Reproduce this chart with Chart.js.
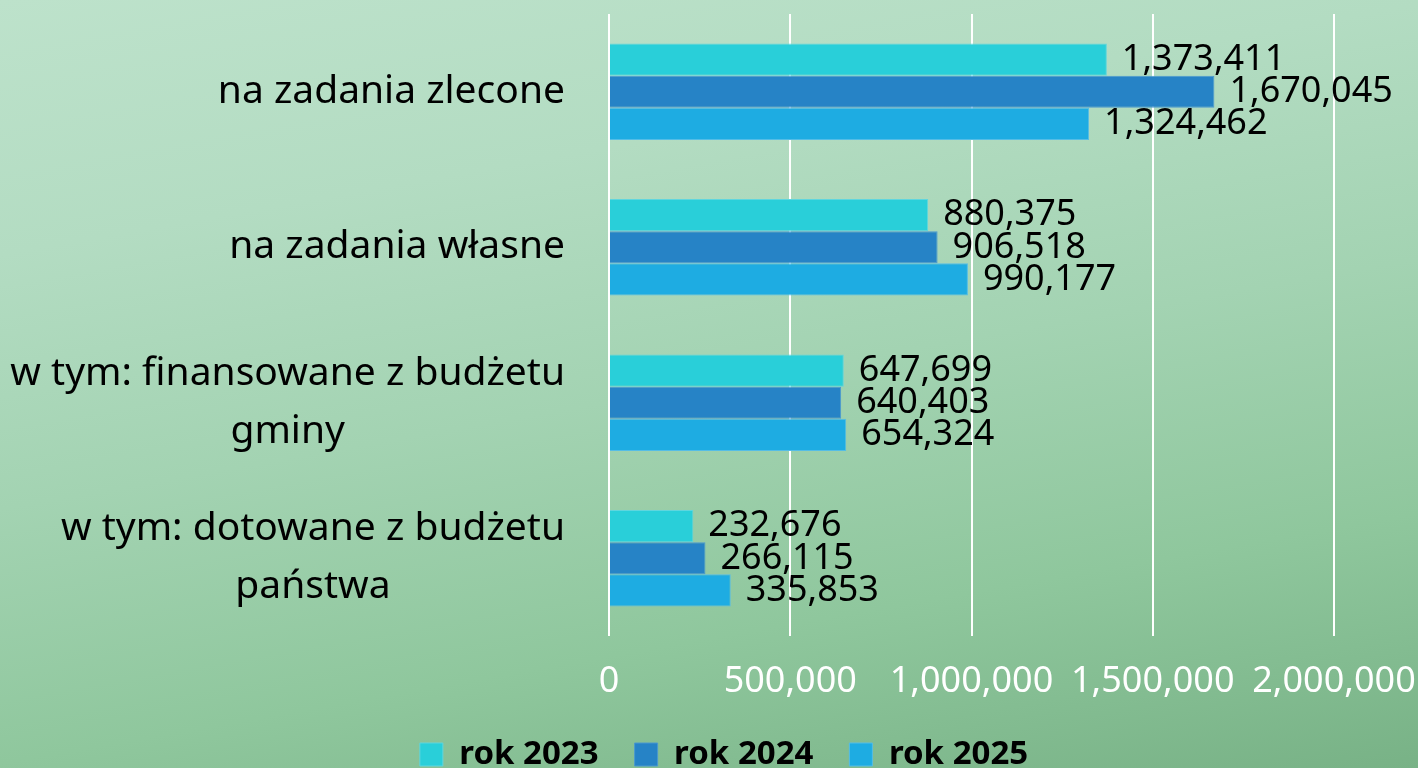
<!DOCTYPE html>
<html>
<head>
<meta charset="utf-8">
<script src="https://cdn.jsdelivr.net/npm/chart.js@4"></script>
<style>
  html, body { margin: 0; padding: 0; }
  body {
    width: 1418px; height: 768px; overflow: hidden;
    background: linear-gradient(170deg, #bde2cb 0%, #b3dcc2 25%, #a3d3b2 50%, #8fc79d 75%, #78b286 100%);
  }
  #wrap { position: relative; width: 1418px; height: 768px; }
</style>
</head>
<body>
<div id="wrap"><canvas id="wykres" width="1418" height="768"></canvas></div>
<script>
const kategorie = [
  ["na zadania zlecone"],
  ["na zadania własne"],
  ["w tym: finansowane z budżetu", "gminy"],
  ["w tym: dotowane z budżetu", "państwa"]
];
const rok2023 = [1373411, 880375, 647699, 232676];
const rok2024 = [1670045, 906518, 640403, 266115];
const rok2025 = [1324462, 990177, 654324, 335853];
const osX = [0, 500000, 1000000, 1500000, 2000000];

const czcionka = "'Noto Sans', 'DejaVu Sans', sans-serif";

// etykiety kategorii - kazda linia wysrodkowana w obrebie bloku, blok wyrownany do prawej
const etykietyKategorii = {
  id: "etykietyKategorii",
  afterDraw(chart) {
    const ctx = chart.ctx;
    const y = chart.scales.y;
    ctx.save();
    ctx.font = "39px " + czcionka;
    ctx.fillStyle = "#000";
    ctx.textAlign = "center";
    ctx.textBaseline = "middle";
    const prawo = chart.chartArea.left - 44;
    kategorie.forEach((linie, i) => {
      let maxW = 0;
      linie.forEach((l) => { maxW = Math.max(maxW, ctx.measureText(l).width); });
      const srodekX = prawo - maxW / 2;
      const srodekY = y.getPixelForTick(i);
      const odstep = 58;
      const start = srodekY - (odstep * (linie.length - 1)) / 2;
      linie.forEach((l, k) => {
        ctx.fillText(l, srodekX, start + k * odstep);
      });
    });
    ctx.restore();
  }
};

// wartosci przy slupkach
const wartosci = {
  id: "wartosci",
  afterDatasetsDraw(chart) {
    const ctx = chart.ctx;
    ctx.save();
    ctx.font = "36px " + czcionka;
    ctx.fillStyle = "#000";
    ctx.textAlign = "left";
    ctx.textBaseline = "middle";
    chart.data.datasets.forEach((ds, d) => {
      const meta = chart.getDatasetMeta(d);
      meta.data.forEach((bar, i) => {
        ctx.fillText(ds.data[i].toLocaleString("en-US"), bar.x + 15, bar.y);
      });
    });
    ctx.restore();
  }
};

const ctx = document.getElementById("wykres");
new Chart(ctx, {
  type: "bar",
  data: {
    labels: kategorie,
    datasets: [
      { label: "rok 2023", data: rok2023, backgroundColor: "#29cfd9", borderColor: "#5fd6de", borderWidth: 1 },
      { label: "rok 2024", data: rok2024, backgroundColor: "#2683c6", borderColor: "#4b98cf", borderWidth: 1 },
      { label: "rok 2025", data: rok2025, backgroundColor: "#1eace2", borderColor: "#55bde6", borderWidth: 1 }
    ]
  },
  options: {
    indexAxis: "y",
    responsive: false,
    animation: false,
    layout: { padding: { top: 14, right: 84, left: 114, bottom: -13 } },
    datasets: { bar: { categoryPercentage: 0.62, barPercentage: 1.0 } },
    scales: {
      x: {
        min: 0,
        max: 2000000,
        afterBuildTicks(scale) { scale.ticks = osX.map((v) => ({ value: v })); },
        afterFit(scale) {
          scale.paddingLeft = 0;
          scale.paddingRight = 0;
          scale.height = 66;
        },
        grid: { color: "#ffffff", lineWidth: 2, drawTicks: false },
        border: { display: false },
        ticks: {
          color: "#ffffff",
          padding: 28,
          maxRotation: 0,
          font: { family: czcionka, size: 36, lineHeight: 1.0 },
          callback: (v) => v.toLocaleString("en-US")
        }
      },
      y: {
        grid: { display: false },
        border: { display: false },
        ticks: { display: false },
        afterFit(scale) { scale.width = 495; }
      }
    },
    plugins: {
      tooltip: { enabled: false },
      legend: {
        position: "bottom",
        labels: {
          color: "#000",
          boxWidth: 23,
          boxHeight: 23,
          padding: 36,
          font: { family: czcionka, size: 33, weight: "bold" }
        }
      }
    }
  },
  plugins: [etykietyKategorii, wartosci]
});
</script>
</body>
</html>
